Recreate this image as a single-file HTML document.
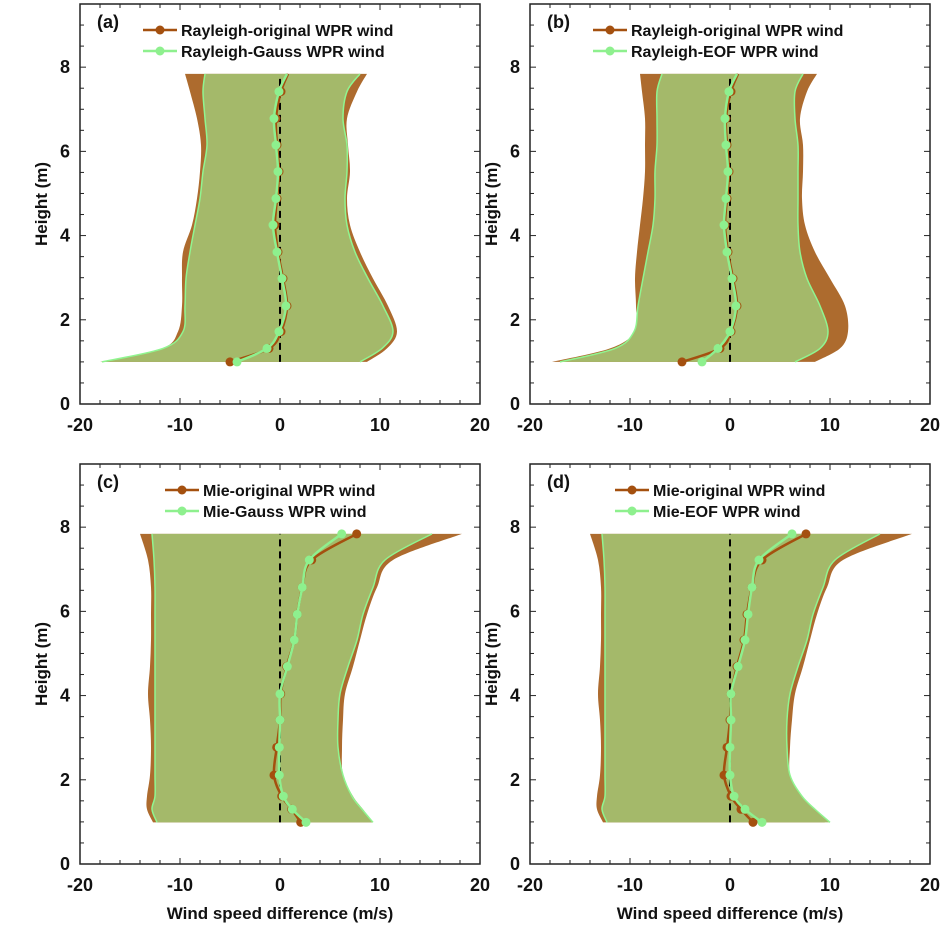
<!DOCTYPE html>
<html><head><meta charset="utf-8">
<style>
body{margin:0;background:#fff;}
svg text{font-family:"Liberation Sans",Arial,sans-serif;font-weight:bold;fill:#111;}
</style></head>
<body>
<svg id="chart" width="944" height="944" viewBox="0 0 944 944" xmlns="http://www.w3.org/2000/svg"></svg>
<script>
// ---- data ----
const heightsTop = [1.0,1.32,1.72,2.33,2.98,3.61,4.25,4.88,5.52,6.15,6.78,7.42,7.84];
const heightsBot = [0.99,1.3,1.61,2.11,2.77,3.42,4.04,4.69,5.32,5.93,6.57,7.22,7.84];
// panel a
const aOrig  = [-5.0,-1.1,0.1,0.7,0.3,-0.2,-0.5,-0.3,-0.1,-0.3,-0.4,0.1,0.8];
const aNew   = [-4.3,-1.3,-0.1,0.6,0.2,-0.3,-0.7,-0.4,-0.2,-0.4,-0.6,-0.1,0.7];
const aOrigL = [-18,-11.8,-10.2,-9.8,-9.8,-9.7,-8.8,-8.3,-8.0,-7.9,-8.3,-9.0,-9.5];
const aOrigR = [8.7,10.7,11.7,10.8,9.3,8.0,7.0,6.7,7.0,6.8,6.7,7.7,8.7];
const aNewL  = [-17.8,-11.7,-9.7,-9.5,-9.4,-9.0,-8.5,-8.0,-7.7,-7.3,-7.5,-7.7,-7.5];
const aNewR  = [8.0,10.2,11.3,10.3,8.8,7.5,6.7,6.5,6.7,6.7,6.3,6.7,8.0];
// panel b
const bOrig  = [-4.8,-1.0,0.1,0.7,0.3,-0.2,-0.5,-0.3,-0.1,-0.3,-0.4,0.1,0.8];
const bNew   = [-2.8,-1.2,0.0,0.6,0.2,-0.3,-0.6,-0.4,-0.2,-0.4,-0.5,-0.1,0.7];
const bOrigL = [-17.8,-12.0,-9.5,-9.4,-9.5,-9.3,-9.0,-8.7,-8.5,-8.5,-8.5,-8.8,-9.0];
const bOrigR = [8.5,11.0,11.8,11.5,10.0,8.5,7.5,7.2,7.3,7.3,7.0,7.7,8.7];
const bNewL  = [-17.0,-11.5,-9.6,-9.2,-8.7,-8.2,-7.7,-7.5,-7.5,-7.3,-7.3,-7.3,-6.8];
const bNewR  = [6.5,9.0,9.8,9.0,7.7,7.0,6.8,6.8,6.8,6.8,6.5,6.5,7.3];
// panel c
const cOrig  = [2.07,1.17,0.17,-0.6,-0.33,0.0,0.07,0.67,1.43,1.73,2.23,3.17,7.67];
const cNew   = [2.6,1.23,0.33,-0.07,-0.07,0.0,0.0,0.73,1.43,1.73,2.23,2.93,6.17];
const cOrigL = [-12.7,-13.3,-13.3,-13.0,-12.9,-13.0,-13.2,-13.0,-12.9,-12.9,-12.9,-13.2,-14.0];
const cOrigR = [9.3,8.3,7.3,6.3,6.2,6.3,6.5,7.3,8.0,8.7,9.7,11.3,18.2];
const cNewL  = [-12.3,-12.8,-12.5,-12.5,-12.5,-12.5,-12.5,-12.5,-12.5,-12.5,-12.5,-12.6,-12.8];
const cNewR  = [9.3,8.2,7.2,6.3,5.8,5.8,6.0,6.8,7.7,8.3,9.3,10.5,15.2];
// panel d
const dOrig  = [2.3,1.1,0.1,-0.6,-0.3,0.0,0.1,0.7,1.4,1.7,2.2,3.2,7.6];
const dNew   = [3.2,1.5,0.4,0.0,0.0,0.1,0.1,0.8,1.5,1.8,2.2,2.9,6.2];
const dOrigL = [-12.7,-13.3,-13.3,-13.0,-12.9,-13.0,-13.2,-13.0,-12.9,-12.9,-12.9,-13.2,-14.0];
const dOrigR = [9.5,8.3,7.0,6.0,6.0,6.2,6.5,7.3,8.0,8.7,9.7,11.3,18.2];
const dNewL  = [-12.3,-12.8,-12.5,-12.5,-12.5,-12.5,-12.5,-12.5,-12.5,-12.5,-12.5,-12.6,-12.8];
const dNewR  = [10.0,8.5,7.2,6.0,5.7,5.7,6.0,6.8,7.7,8.3,9.3,10.5,15.0];
const xTicks = [-20,-10,0,10,20];
const yTicks = [0,2,4,6,8];

const NS="http://www.w3.org/2000/svg";
const svg=document.getElementById('chart');
function mk(tag,attrs,parent){const e=document.createElementNS(NS,tag);for(const k in attrs)e.setAttribute(k,attrs[k]);(parent||svg).appendChild(e);return e;}
function smooth(pts){
  let d=`M${pts[0][0]},${pts[0][1]}`;
  for(let i=0;i<pts.length-1;i++){
    const p0=pts[Math.max(i-1,0)],p1=pts[i],p2=pts[i+1],p3=pts[Math.min(i+2,pts.length-1)];
    const c1=[p1[0]+(p2[0]-p0[0])/6,p1[1]+(p2[1]-p0[1])/6];
    const c2=[p2[0]-(p3[0]-p1[0])/6,p2[1]-(p3[1]-p1[1])/6];
    d+=` C${c1[0]},${c1[1]} ${c2[0]},${c2[1]} ${p2[0]},${p2[1]}`;
  }
  return d;
}
function bandPath(xs,L,R,H){
  const left=H.map((h,i)=>[xs(L[i]),0]).map((p,i)=>[p[0],0]);
  const lp=H.map((h,i)=>[xs(L[i]),0]);
  return null;
}
function panel(cfg){
  const {x0,y0,label,H,orig,neu,oL,oR,nL,nR,leg1,leg2,topMarker,showX,id}=cfg;
  const W=400,Hh=400;
  const xs=v=>x0+(v+20)*10;
  const ys=v=>y0+Hh-v*(Hh/9.5);
  const g=mk('g',{});
  
  
  function band(L,R,fill,name){
    const lp=H.map((h,i)=>[xs(L[i]),ys(h)]);
    const rp=H.map((h,i)=>[xs(R[i]),ys(h)]).reverse();
    let d=smooth(lp);
    d+=` L${rp[0][0]},${rp[0][1]}`+smooth(rp).replace(/^M[^C]*/,' ');
    d+=' Z';
    const p=mk('path',{d:d,fill:fill,stroke:'none'},g);
    
    
    return {lp,rp};
  }
  band(oL,oR,'#ad6b2e','original-range-band');
  const nb=band(nL,nR,'#a4b96a','new-range-band');
  const e1=mk('path',{d:smooth(nb.lp),fill:'none',stroke:'#90f590','stroke-width':1.5},g);
  
  
  const e2=mk('path',{d:smooth(nb.rp),fill:'none',stroke:'#90f590','stroke-width':1.5},g);
  
  
  const zl=mk('line',{x1:xs(0),x2:xs(0),y1:ys(H[0]),y2:ys(H[H.length-1]),stroke:'#000','stroke-width':2,'stroke-dasharray':'7,5'},g);
  
  
  function series(vals,color,name){
    const pts=H.map((h,i)=>[xs(vals[i]),ys(h)]);
    const l=mk('path',{d:smooth(pts),fill:'none',stroke:color,'stroke-width':2.5},g);
    
    
    pts.forEach((p,i)=>{
      if(!topMarker && i===pts.length-1) return;
      const c=mk('circle',{cx:p[0],cy:p[1],r:4.5,fill:color},g);
      
      
    });
  }
  series(orig,'#a4500f','original-wind');
  series(neu,'#8ef08e','new-wind');
  // axes box
  const box=mk('rect',{x:x0,y:y0,width:W,height:Hh,fill:'none',stroke:'#222','stroke-width':1.5},g);
  
  
  for(let v=-20;v<=20;v+=2){
    const x=xs(v);const L=(v%10===0)?6:4;
    mk('line',{x1:x,x2:x,y1:y0+Hh,y2:y0+Hh-L,stroke:'#222','stroke-width':1},g);
    mk('line',{x1:x,x2:x,y1:y0,y2:y0+L,stroke:'#222','stroke-width':1},g);
  }
  for(let v=0;v<=9.5;v+=0.5){
    const y=ys(v);const L=(v%2===0)?6:4;
    mk('line',{x1:x0,x2:x0+L,y1:y,y2:y,stroke:'#222','stroke-width':1},g);
    mk('line',{x1:x0+W,x2:x0+W-L,y1:y,y2:y,stroke:'#222','stroke-width':1},g);
  }
  xTicks.forEach(v=>{
    const t=mk('text',{x:xs(v),y:y0+Hh+27,'text-anchor':'middle','font-size':18},g);
    t.textContent=v;
    
    
  });
  yTicks.forEach(v=>{
    const t=mk('text',{x:x0-10,y:ys(v)+6,'text-anchor':'end','font-size':18},g);
    t.textContent=v;
    
    
  });
  const pl=mk('text',{x:x0+17,y:y0+24,'font-size':18},g);
  pl.textContent=label;
  
  
  [[leg1,'#a4500f',26],[leg2,'#8ef08e',47]].forEach(([txt,col,dy])=>{
    const lx=x0+(cfg.legX||63);
    const ll=mk('line',{x1:lx,x2:lx+34,y1:y0+dy,y2:y0+dy,stroke:col,'stroke-width':2.5},g);
    
    
    const lc=mk('circle',{cx:lx+17,cy:y0+dy,r:4.5,fill:col},g);
    
    
    const lt=mk('text',{x:lx+38,y:y0+dy+6,'font-size':16},g);
    lt.textContent=txt;
    
    
  });
  const yt=mk('text',{x:0,y:0,'text-anchor':'middle','font-size':17,transform:`translate(${x0-33},${y0+Hh/2}) rotate(-90)`},g);
  yt.textContent='Height (m)';
  
  
  if(showX){
    const xt=mk('text',{x:x0+W/2,y:y0+Hh+55,'text-anchor':'middle','font-size':17},g);
    xt.textContent='Wind speed difference (m/s)';
    
    
  }
}
panel({id:'a',x0:80,y0:4,label:'(a)',H:heightsTop,orig:aOrig,neu:aNew,oL:aOrigL,oR:aOrigR,nL:aNewL,nR:aNewR,leg1:'Rayleigh-original WPR wind',leg2:'Rayleigh-Gauss WPR wind',topMarker:false,showX:false,legX:63});
panel({id:'b',x0:530,y0:4,label:'(b)',H:heightsTop,orig:bOrig,neu:bNew,oL:bOrigL,oR:bOrigR,nL:bNewL,nR:bNewR,leg1:'Rayleigh-original WPR wind',leg2:'Rayleigh-EOF WPR wind',topMarker:false,showX:false,legX:63});
panel({id:'c',x0:80,y0:464,label:'(c)',H:heightsBot,orig:cOrig,neu:cNew,oL:cOrigL,oR:cOrigR,nL:cNewL,nR:cNewR,leg1:'Mie-original WPR wind',leg2:'Mie-Gauss WPR wind',topMarker:true,showX:true,legX:85});
panel({id:'d',x0:530,y0:464,label:'(d)',H:heightsBot,orig:dOrig,neu:dNew,oL:dOrigL,oR:dOrigR,nL:dNewL,nR:dNewR,leg1:'Mie-original WPR wind',leg2:'Mie-EOF WPR wind',topMarker:true,showX:true,legX:85});
</script>
</body></html>
